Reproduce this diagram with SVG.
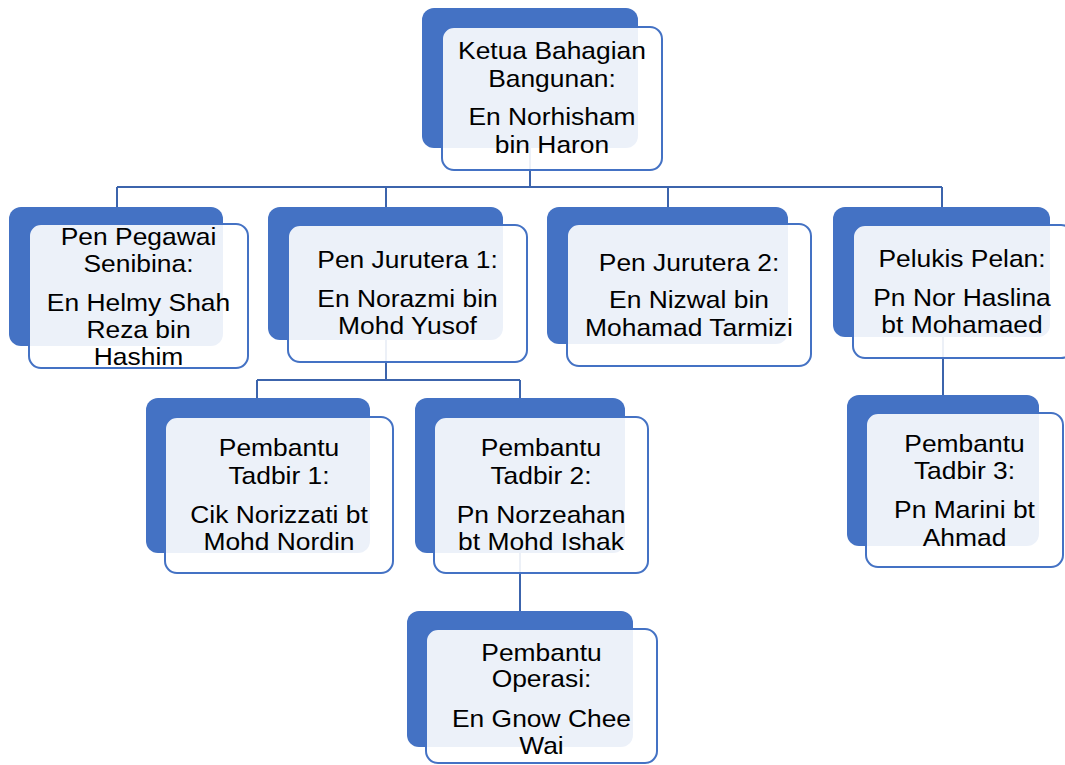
<svg xmlns="http://www.w3.org/2000/svg" width="1065" height="765" viewBox="0 0 1065 765">
<style>
.bk{fill:#4472C4;}
.fr{fill:#FFFFFF;fill-opacity:0.9;stroke:#4472C4;stroke-width:2;}
.t{font-family:"Liberation Sans",Arial,sans-serif;font-size:24px;fill:#000;text-anchor:middle;}
.c{fill:none;stroke:#3C64AC;stroke-width:2;}
</style>
<rect width="1065" height="765" fill="#FFFFFF"/>
<g id="connectors">
<path class="c" d="M530 148V187M117 187H942M117 187V207M386 187V207M668 187V207M942 187V207"/>
<path class="c" d="M386 340V380M257 380H520M257 380V398M520 380V398"/>
<path class="c" d="M520 553V611"/>
<path class="c" d="M943 337V395"/>
</g>
<g id="node-ketua">
<rect class="bk" x="422" y="8" width="216" height="140" rx="12"/>
<rect class="fr" x="442" y="27" width="220" height="143" rx="12"/>
<text class="t" transform="translate(552 0) scale(1.1 1)"><tspan x="0" y="59">Ketua Bahagian</tspan><tspan x="0" y="87">Bangunan:</tspan><tspan x="0" y="125">En Norhisham</tspan><tspan x="0" y="153">bin Haron</tspan></text>
</g>
<g id="node-pegawai">
<rect class="bk" x="9" y="207" width="214" height="139" rx="12"/>
<rect class="fr" x="29" y="224" width="219" height="144" rx="12"/>
<text class="t" transform="translate(138.5 0) scale(1.1 1)"><tspan x="0" y="245">Pen Pegawai</tspan><tspan x="0" y="272">Senibina:</tspan><tspan x="0" y="311">En Helmy Shah</tspan><tspan x="0" y="338">Reza bin</tspan><tspan x="0" y="365">Hashim</tspan></text>
</g>
<g id="node-jurutera1">
<rect class="bk" x="268" y="207" width="235" height="133" rx="12"/>
<rect class="fr" x="288" y="225" width="239" height="137" rx="12"/>
<text class="t" transform="translate(407.5 0) scale(1.1 1)"><tspan x="0" y="268">Pen Jurutera 1:</tspan><tspan x="0" y="307">En Norazmi bin</tspan><tspan x="0" y="334">Mohd Yusof</tspan></text>
</g>
<g id="node-jurutera2">
<rect class="bk" x="547" y="207" width="241" height="137" rx="12"/>
<rect class="fr" x="567" y="224" width="244" height="142" rx="12"/>
<text class="t" transform="translate(689 0) scale(1.1 1)"><tspan x="0" y="271">Pen Jurutera 2:</tspan><tspan x="0" y="308">En Nizwal bin</tspan><tspan x="0" y="336">Mohamad Tarmizi</tspan></text>
</g>
<g id="node-pelukis">
<rect class="bk" x="833" y="207" width="217" height="130" rx="12"/>
<rect class="fr" x="853" y="225" width="220" height="133" rx="12"/>
<text class="t" transform="translate(962 0) scale(1.1 1)"><tspan x="0" y="267">Pelukis Pelan:</tspan><tspan x="0" y="306">Pn Nor Haslina</tspan><tspan x="0" y="333">bt Mohamaed</tspan></text>
</g>
<g id="node-tadbir1">
<rect class="bk" x="146" y="398" width="224" height="155" rx="12"/>
<rect class="fr" x="165" y="417" width="228" height="156" rx="12"/>
<text class="t" transform="translate(279 0) scale(1.1 1)"><tspan x="0" y="456">Pembantu</tspan><tspan x="0" y="484">Tadbir 1:</tspan><tspan x="0" y="523">Cik Norizzati bt</tspan><tspan x="0" y="550">Mohd Nordin</tspan></text>
</g>
<g id="node-tadbir2">
<rect class="bk" x="415" y="398" width="210" height="155" rx="12"/>
<rect class="fr" x="434" y="417" width="214" height="156" rx="12"/>
<text class="t" transform="translate(541 0) scale(1.1 1)"><tspan x="0" y="456">Pembantu</tspan><tspan x="0" y="484">Tadbir 2:</tspan><tspan x="0" y="523">Pn Norzeahan</tspan><tspan x="0" y="550">bt Mohd Ishak</tspan></text>
</g>
<g id="node-operasi">
<rect class="bk" x="407" y="611" width="226" height="136" rx="12"/>
<rect class="fr" x="426" y="629" width="231" height="134" rx="12"/>
<text class="t" transform="translate(541.5 0) scale(1.1 1)"><tspan x="0" y="661">Pembantu</tspan><tspan x="0" y="687">Operasi:</tspan><tspan x="0" y="727">En Gnow Chee</tspan><tspan x="0" y="754">Wai</tspan></text>
</g>
<g id="node-tadbir3">
<rect class="bk" x="847" y="395" width="192" height="151" rx="12"/>
<rect class="fr" x="866" y="413" width="197" height="154" rx="12"/>
<text class="t" transform="translate(964.5 0) scale(1.1 1)"><tspan x="0" y="452">Pembantu</tspan><tspan x="0" y="479">Tadbir 3:</tspan><tspan x="0" y="518">Pn Marini bt</tspan><tspan x="0" y="546">Ahmad</tspan></text>
</g>
</svg>
